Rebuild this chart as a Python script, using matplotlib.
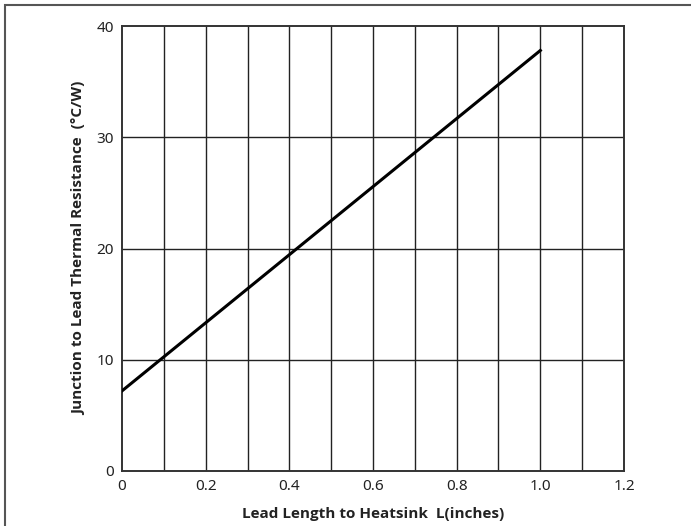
import numpy as np
import matplotlib.pyplot as plt
from matplotlib.patches import Rectangle
from matplotlib import font_manager

# Lead length (inches) vs junction-to-lead thermal resistance (C/W)
lead_length = [0.0, 1.0]
thermal_res = [7.2, 37.8]

x_ticks = [0, 0.2, 0.4, 0.6, 0.8, 1.0, 1.2]
x_tick_labels = ['0', '0.2', '0.4', '0.6', '0.8', '1.0', '1.2']
y_ticks = [0, 10, 20, 30, 40]

plt.rcParams['font.family'] = ['Noto Sans', 'DejaVu Sans']

# pick a family that really has a bold face for the axis titles
bold_family = 'DejaVu Sans'
for fam in ['Noto Sans', 'Open Sans', 'Lato', 'Roboto']:
    f = font_manager.findfont(font_manager.FontProperties(family=fam, weight='bold'),
                              fallback_to_default=False)
    if 'bold' in f.lower():
        bold_family = fam
        break
print(bold_family)

W, H = 691, 526
fig = plt.figure(figsize=(W / 100, H / 100), dpi=100)
ax = fig.add_axes([122 / W, 1 - 471 / H, (624 - 122) / W, (471 - 26) / H])

# grid every 0.1 / 10
for xv in np.arange(0.1, 1.2, 0.1):
    ax.axvline(xv, color='#222222', lw=1.0, zorder=1)
for yv in y_ticks[1:-1]:
    ax.axhline(yv, color='#222222', lw=1.0, zorder=1)

ax.plot(lead_length, thermal_res, color='black', lw=2.2, zorder=3)

ax.set_xlim(0, 1.2)
ax.set_ylim(0, 40)
ax.set_xticks(x_ticks)
ax.set_xticklabels(x_tick_labels)
ax.set_yticks(y_ticks)
ax.tick_params(length=0, labelsize=11, pad=6, colors='#222222')
for s in ax.spines.values():
    s.set_color('#333333')
    s.set_linewidth(1.4)

ax.set_xlabel('Lead Length to Heatsink  L(inches)', fontsize=11, fontweight='bold',
              family=bold_family, labelpad=9, color='#222222')
ax.set_ylabel('Junction to Lead Thermal Resistance  (°C/W)', fontsize=11,
              fontweight='bold', family=bold_family, labelpad=7, color='#222222')

# outer frame (runs off the right/bottom edge)
fig.patches.append(Rectangle((5 / W, -0.05), 1.1, 1 - 5 / H + 0.05,
                             transform=fig.transFigure, fill=False,
                             edgecolor='#555555', lw=1.5))

fig.savefig('out.png', dpi=100)
